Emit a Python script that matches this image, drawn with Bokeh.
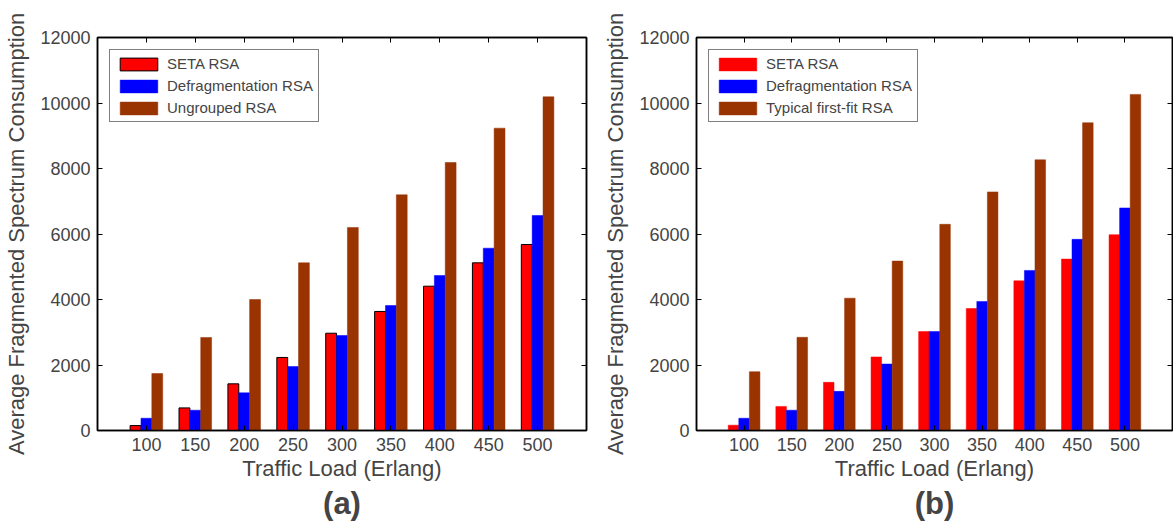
from bokeh.plotting import figure
from bokeh.models import (ColumnDataSource, LinearAxis, FixedTicker, Legend, LegendItem, Title)
from bokeh.layouts import row
from bokeh.transform import dodge
from bokeh.embed import file_html
from bokeh.resources import INLINE

loads = ["100", "150", "200", "250", "300", "350", "400", "450", "500"]
pos = [1, 2, 3, 4, 5, 6, 7, 8, 9]

seta_a = [150, 690, 1425, 2230, 2970, 3635, 4406, 5120, 5680]
defrag_a = [375, 620, 1150, 1955, 2900, 3817, 4733, 5567, 6565]
ungrouped_a = [1740, 2840, 4000, 5120, 6200, 7197, 8183, 9231, 10189]

seta_b = [163, 735, 1470, 2245, 3020, 3725, 4570, 5234, 5978]
defrag_b = [375, 620, 1195, 2030, 3020, 3940, 4888, 5837, 6795]
firstfit_b = [1795, 2845, 4040, 5173, 6296, 7285, 8265, 9397, 10263]

yticks = [0, 2000, 4000, 6000, 8000, 10000, 12000]

FONT = "Liberation Sans"
RED, BLUE, BROWN = "#FF0000", "#0000FF", "#993300"


def make(s1, s2, s3, names, tag, width, bl, br, red_outline):
    src = ColumnDataSource(dict(x=pos, a=s1, b=s2, c=s3))
    p = figure(width=width, height=521, x_range=(0, 10), y_range=(0, 12000),
               output_backend="svg", toolbar_location=None,
               min_border_left=bl, min_border_right=br, min_border_top=37,
               min_border_bottom=91)
    w = 0.222
    r1 = p.vbar(x=dodge("x", -w, range=p.x_range), top="a", width=w, source=src,
                fill_color=RED, line_color="black" if red_outline else RED,
                line_width=1 if red_outline else 0.5)
    r2 = p.vbar(x="x", top="b", width=w, source=src, fill_color=BLUE, line_color=BLUE, line_width=0.5)
    r3 = p.vbar(x=dodge("x", w, range=p.x_range), top="c", width=w, source=src,
                fill_color=BROWN, line_color=BROWN, line_width=0.5)

    p.grid.visible = False
    p.outline_line_color = "black"
    p.outline_line_width = 1.5

    xa = p.xaxis[0]
    xa.ticker = FixedTicker(ticks=pos)
    xa.major_label_overrides = {i: l for i, l in zip(pos, loads)}
    xa.axis_label = "Traffic Load (Erlang)"
    ya = p.yaxis[0]
    ya.ticker = FixedTicker(ticks=yticks)
    ya.axis_label = "Average Fragmented Spectrum Consumption"
    for ax in (xa, ya):
        ax.major_label_text_font = FONT
        ax.major_label_text_font_size = "18px"
        ax.axis_label_text_font = FONT
        ax.axis_label_text_font_size = "22px"
        ax.axis_label_text_font_style = "normal"
        ax.major_tick_in = 5
        ax.major_tick_out = 0
        ax.minor_tick_in = 0
        ax.minor_tick_out = 0
        ax.axis_line_width = 1.5
        ax.major_tick_line_width = 1
        ax.major_label_standoff = 7
    xa.axis_label_standoff = 2
    ya.axis_label_standoff = 8

    top = LinearAxis(ticker=FixedTicker(ticks=pos),
                     major_label_overrides={i: "" for i in pos})
    right = LinearAxis(ticker=FixedTicker(ticks=yticks),
                       major_label_overrides={v: "" for v in yticks})
    for ax in (top, right):
        ax.major_label_standoff = 0
        ax.major_tick_in = 5
        ax.major_tick_out = 0
        ax.minor_tick_in = 0
        ax.minor_tick_out = 0
        ax.axis_line_width = 1.5
        ax.major_tick_line_width = 1
    p.add_layout(top, "above")
    p.add_layout(right, "right")

    t = Title(text=tag, align="center", text_font=FONT, text_font_size="31px",
              text_font_style="bold", standoff=0, offset=0)
    p.add_layout(t, "below")

    leg = Legend(items=[LegendItem(label=names[0], renderers=[r1]),
                        LegendItem(label=names[1], renderers=[r2]),
                        LegendItem(label=names[2], renderers=[r3])],
                 location="top_left", margin=12, padding=5, spacing=5,
                 glyph_width=47, glyph_height=16, label_height=16,
                 label_text_font=FONT, label_text_font_size="15px",
                 label_standoff=5, border_line_color="black", border_line_width=1.5,
                 background_fill_alpha=1)
    p.add_layout(leg, "center")
    return p


p1 = make(seta_a, defrag_a, ungrouped_a, ["SETA RSA", "Defragmentation RSA", "Ungrouped RSA"],
          "(a)", 600, 97, 14, True)
p2 = make(seta_b, defrag_b, firstfit_b, ["SETA RSA", "Defragmentation RSA", "Typical first-fit RSA"],
          "(b)", 573, 84, 1, False)

layout = row(p1, p2)
open("out.html", "w").write(file_html(layout, INLINE))
